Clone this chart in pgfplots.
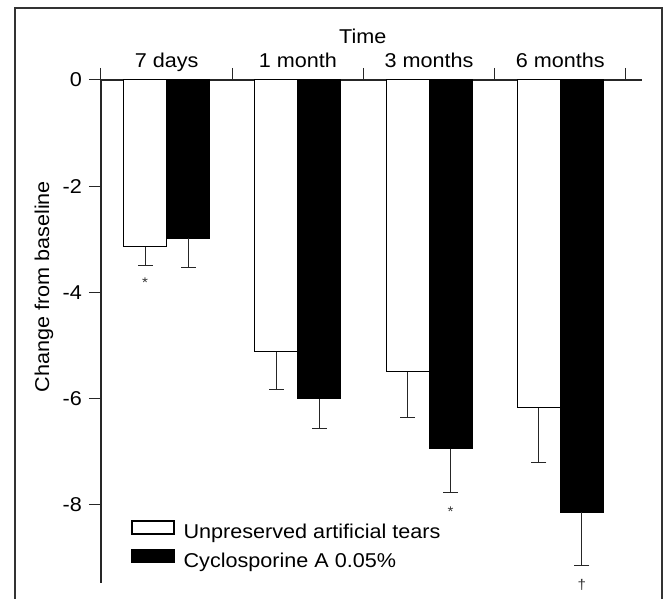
\documentclass[border=0pt]{standalone}
\usepackage{fontspec}
\setmainfont[FakeStretch=1.08]{Liberation Sans}
\usepackage{pgfplots}
\pgfplotsset{compat=1.18}
\begin{document}
\fontsize{10}{12}\selectfont
\begin{tikzpicture}
\begin{axis}[
  at={(0pt,0pt)}, anchor=north west,
  scale only axis, width=270.5pt, height=251.5pt,
  xmin=-0.5, xmax=3.622, ymin=-9.48, ymax=0,
  clip=false,
  axis x line*=top, axis y line*=left,
  axis line style={line width=0.9pt, -, black!85},
  tick align=outside,
  xtick={0,1,2,3},
  xticklabels={7 days,1 month,3 months,6 months},
  minor xtick={-0.5,0.5,1.5,2.5,3.5},
  major x tick style={draw=none},
  minor x tick style={line width=0.5pt, black!85},
  minor tick length=6pt, major tick length=6pt,
  y tick style={line width=0.5pt, black!85},
  ytick={-8,-6,-4,-2,0}, yticklabels={-8,-6,-4,-2,0},
  xticklabel style={anchor=base, yshift=0pt, font=\fontsize{10}{12}\selectfont},
  yticklabel style={font=\fontsize{10}{12}\selectfont},
  xlabel={Time},
  xlabel style={at={(rel axis cs:0.484,1)}, anchor=base, yshift=18.25pt},
  ylabel={Change from baseline},
  ylabel style={at={(rel axis cs:-0.1054,0.589)}, anchor=center},
  legend style={draw=none, fill=none, at={(rel axis cs:0.0555,0.1252)}, anchor=north west,
    inner sep=0pt, row sep=2.5pt, column sep=3.5pt, nodes={inner sep=1pt}, font=\fontsize{10}{12}\selectfont},
  legend cell align=left,
  legend image code/.code={\draw[#1, line width=0.6pt] (0pt,-0.5pt) rectangle (21pt,6pt);},
]
\addplot[ybar, bar width=0.328, bar shift=0pt, fill=white, draw=black, line width=0.5pt,
  error bars/.cd, y dir=minus, y explicit,
  error bar style={line width=0.5pt, black!85},
  error mark options={rotate=90, mark size=3.75pt, line width=0.5pt, black!85}]
  coordinates {(-0.164,-3.14) -= (0,0.36) (0.836,-5.12) -= (0,0.72) (1.836,-5.50) -= (0,0.87) (2.836,-6.18) -= (0,1.02)};
\addlegendentry{Unpreserved artificial tears}
\addplot[ybar, bar width=0.328, bar shift=0pt, fill=black, draw=black, line width=0.5pt,
  error bars/.cd, y dir=minus, y explicit,
  error bar style={line width=0.5pt, black!85},
  error mark options={rotate=90, mark size=3.75pt, line width=0.5pt, black!85}]
  coordinates {(0.164,-2.98) -= (0,0.55) (1.164,-6.01) -= (0,0.56) (2.164,-6.95) -= (0,0.82) (3.164,-8.15) -= (0,1.00)};
\addlegendentry{Cyclosporine A 0.05\%}
\node[font=\scriptsize, text=black!80] at (axis cs:-0.164,-3.82) {*};
\node[font=\scriptsize, text=black!80] at (axis cs:2.164,-8.13) {*};
\node[font=\scriptsize, text=black!80] at (axis cs:3.164,-9.52) {\textdagger};
\end{axis}
\draw[line width=1pt, black!80] (-43pt,36pt) rectangle (280.5pt,-280pt);
\pgfresetboundingbox
\useasboundingbox (-50.5pt,40pt) rectangle (285pt,-259.5pt);
\end{tikzpicture}
\end{document}
